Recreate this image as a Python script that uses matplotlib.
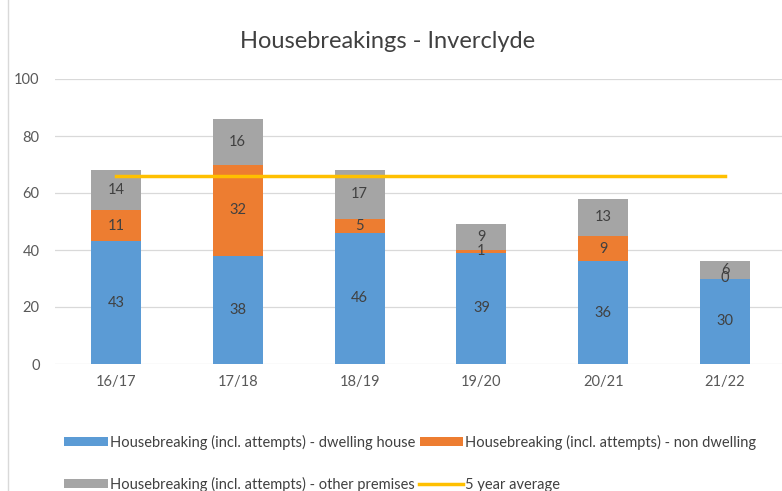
import matplotlib.pyplot as plt
import numpy as np

years = ["16/17", "17/18", "18/19", "19/20", "20/21", "21/22"]
dwelling = [43, 38, 46, 39, 36, 30]
non_dwelling = [11, 32, 5, 1, 9, 0]
other = [14, 16, 17, 9, 13, 6]
five_year_avg = [65.8, 65.8, 65.8, 65.8, 65.8, 65.8]

plt.rcParams['font.family'] = ['Lato', 'DejaVu Sans']

fig = plt.figure(figsize=(7.82, 4.91), dpi=100)
ax = fig.add_axes([55 / 782, (491 - 364) / 491, 731 / 782, 285 / 491])

x = np.arange(len(years))
w = 0.41
blue, orange, grey, gold = "#5B9BD5", "#ED7D31", "#A5A5A5", "#FFC000"

b1 = ax.bar(x, dwelling, w, color=blue, label="Housebreaking (incl. attempts) - dwelling house")
b2 = ax.bar(x, non_dwelling, w, bottom=dwelling, color=orange,
            label="Housebreaking (incl. attempts) - non dwelling")
bottom2 = np.array(dwelling) + np.array(non_dwelling)
b3 = ax.bar(x, other, w, bottom=bottom2, color=grey,
            label="Housebreaking (incl. attempts) - other premises")
ln, = ax.plot(x, five_year_avg, color=gold, lw=2.5, label="5 year average")

for vals, bots in [(dwelling, np.zeros(6)), (non_dwelling, np.array(dwelling)), (other, bottom2)]:
    for xi, v, b in zip(x, vals, bots):
        ax.text(xi, b + v / 2, str(v), ha="center", va="center", fontsize=10.5, color="#404040")

ax.set_ylim(0, 100)
ax.set_xlim(-0.5, 5.5)
ax.set_yticks(range(0, 101, 20))
ax.set_xticks(x, years)
ax.yaxis.grid(True, color="#D9D9D9", lw=0.9)
ax.set_axisbelow(True)
for s in ax.spines.values():
    s.set_visible(False)
ax.tick_params(length=0, colors="#595959", labelsize=10.5)
ax.tick_params(axis="y", pad=11)
ax.tick_params(axis="x", pad=8)

fig.text(388 / 782, 1 - 42 / 491, "Housebreakings - Inverclyde", ha="center", va="center",
         fontsize=17, color="#404040")

fig.add_artist(plt.Line2D([8 / 782, 8 / 782], [0, 1], color="#D9D9D9", lw=1))

leg_kw = dict(loc="center left", bbox_transform=fig.transFigure, ncol=2, frameon=False,
              fontsize=10.5, handlelength=3.0, handleheight=0.55, handletextpad=0.15,
              columnspacing=0.3, labelcolor="#404040", borderaxespad=0)
h1 = ax.legend(handles=[b1, b2], bbox_to_anchor=(58 / 782, 1 - 442 / 491), **leg_kw)
ax.add_artist(h1)
ax.legend(handles=[b3, ln], bbox_to_anchor=(58 / 782, 1 - 484 / 491), **leg_kw)

fig.savefig("out.png", dpi=100)
